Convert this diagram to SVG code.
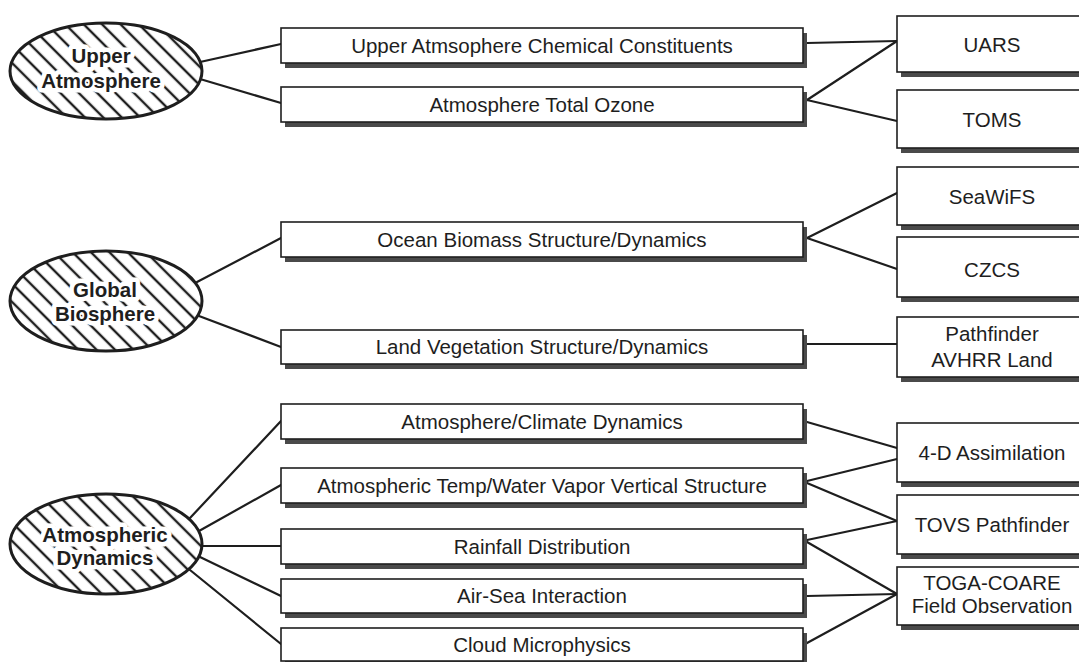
<svg xmlns="http://www.w3.org/2000/svg" width="1079" height="662" viewBox="0 0 1079 662">
<defs>
<pattern id="hatch" patternUnits="userSpaceOnUse" width="13" height="13" patternTransform="rotate(-45)">
<line x1="3" y1="0" x2="3" y2="13" stroke="#1e1e1e" stroke-width="2.4"/>
</pattern>
<style>
.box{fill:#fff;stroke:#1e1e1e;stroke-width:1.6}
.sh{fill:#4a4a4a}
.t{font-family:"Liberation Sans",Arial,sans-serif;font-size:20.5px;fill:#1e1e1e;text-anchor:middle}
.et{font-family:"Liberation Sans",Arial,sans-serif;font-size:20.5px;font-weight:bold;fill:#1e1e1e;text-anchor:middle;stroke:#fff;stroke-width:9;stroke-linejoin:round;paint-order:stroke}
.ell{fill:url(#hatch);stroke:#1e1e1e;stroke-width:3}
.ellbg{fill:#fff}
.c line{stroke:#1e1e1e;stroke-width:2.2;stroke-linecap:round}
</style>
</defs>
<rect width="1079" height="662" fill="#fff"/>
<g class="c" id="connectors">
<line x1="200" y1="62" x2="281" y2="44"/>
<line x1="200" y1="79" x2="281" y2="103"/>
<line x1="197" y1="282" x2="281" y2="238"/>
<line x1="199" y1="316" x2="281" y2="347"/>
<line x1="190" y1="518" x2="281" y2="421"/>
<line x1="199" y1="531" x2="281" y2="485"/>
<line x1="202" y1="546" x2="281" y2="546"/>
<line x1="200" y1="557" x2="281" y2="596"/>
<line x1="190" y1="570" x2="281" y2="644"/>
<line x1="807" y1="43" x2="897" y2="41"/>
<line x1="807" y1="100" x2="897" y2="41"/>
<line x1="807" y1="100" x2="897" y2="121"/>
<line x1="807" y1="238" x2="897" y2="193"/>
<line x1="807" y1="238" x2="897" y2="269"/>
<line x1="807" y1="344" x2="897" y2="344"/>
<line x1="807" y1="422" x2="897" y2="448"/>
<line x1="807" y1="481" x2="897" y2="459"/>
<line x1="807" y1="483" x2="897" y2="521"/>
<line x1="807" y1="540" x2="897" y2="521"/>
<line x1="807" y1="542" x2="897" y2="594"/>
<line x1="807" y1="596" x2="897" y2="594"/>
<line x1="807" y1="643" x2="897" y2="594"/>
</g>
<g id="upper-atmosphere">
<ellipse class="ellbg" cx="106" cy="71" rx="96" ry="48"/>
<ellipse class="ell" cx="106" cy="71" rx="96" ry="48"/>
<text class="et" x="101" y="63">Upper</text>
<text class="et" x="101" y="88">Atmosphere</text>
</g>
<g id="global-biosphere">
<ellipse class="ellbg" cx="106" cy="301" rx="96" ry="50"/>
<ellipse class="ell" cx="106" cy="301" rx="96" ry="50"/>
<text class="et" x="105" y="297">Global</text>
<text class="et" x="105" y="321">Biosphere</text>
</g>
<g id="atmospheric-dynamics">
<ellipse class="ellbg" cx="106" cy="544" rx="96" ry="50"/>
<ellipse class="ell" cx="106" cy="544" rx="96" ry="50"/>
<text class="et" x="105" y="542">Atmospheric</text>
<text class="et" x="105" y="565">Dynamics</text>
</g>
<g id="m1"><rect class="sh" x="285" y="33" width="522" height="35"/><rect class="box" x="281" y="28" width="522" height="35"/><text class="t" x="542" y="53">Upper Atmsophere Chemical Constituents</text></g>
<g id="m2"><rect class="sh" x="285" y="92" width="522" height="35"/><rect class="box" x="281" y="87" width="522" height="35"/><text class="t" x="542" y="112">Atmosphere Total Ozone</text></g>
<g id="m3"><rect class="sh" x="285" y="227" width="522" height="35"/><rect class="box" x="281" y="222" width="522" height="35"/><text class="t" x="542" y="247">Ocean Biomass Structure/Dynamics</text></g>
<g id="m4"><rect class="sh" x="285" y="335" width="522" height="34"/><rect class="box" x="281" y="330" width="522" height="34"/><text class="t" x="542" y="354">Land Vegetation Structure/Dynamics</text></g>
<g id="m5"><rect class="sh" x="285" y="409" width="522" height="35"/><rect class="box" x="281" y="404" width="522" height="35"/><text class="t" x="542" y="429">Atmosphere/Climate Dynamics</text></g>
<g id="m6"><rect class="sh" x="285" y="473" width="522" height="35"/><rect class="box" x="281" y="468" width="522" height="35"/><text class="t" x="542" y="493">Atmospheric Temp/Water Vapor Vertical Structure</text></g>
<g id="m7"><rect class="sh" x="285" y="534" width="522" height="35"/><rect class="box" x="281" y="529" width="522" height="35"/><text class="t" x="542" y="554">Rainfall Distribution</text></g>
<g id="m8"><rect class="sh" x="285" y="584" width="522" height="34"/><rect class="box" x="281" y="579" width="522" height="34"/><text class="t" x="542" y="603">Air-Sea Interaction</text></g>
<g id="m9"><rect class="sh" x="285" y="633" width="522" height="34"/><rect class="box" x="281" y="628" width="522" height="33"/><text class="t" x="542" y="652">Cloud Microphysics</text></g>
<g id="r1"><rect class="sh" x="901" y="21" width="190" height="56"/><rect class="box" x="897" y="16" width="190" height="56"/><text class="t" x="992" y="52">UARS</text></g>
<g id="r2"><rect class="sh" x="901" y="95" width="190" height="58"/><rect class="box" x="897" y="90" width="190" height="58"/><text class="t" x="992" y="127">TOMS</text></g>
<g id="r3"><rect class="sh" x="901" y="172" width="190" height="58"/><rect class="box" x="897" y="167" width="190" height="58"/><text class="t" x="992" y="204">SeaWiFS</text></g>
<g id="r4"><rect class="sh" x="901" y="242" width="190" height="60"/><rect class="box" x="897" y="237" width="190" height="60"/><text class="t" x="992" y="277">CZCS</text></g>
<g id="r5"><rect class="sh" x="901" y="322" width="190" height="60"/><rect class="box" x="897" y="317" width="190" height="60"/><text class="t" x="992" y="341">Pathfinder</text><text class="t" x="992" y="367">AVHRR Land</text></g>
<g id="r6"><rect class="sh" x="901" y="428" width="190" height="59"/><rect class="box" x="897" y="423" width="190" height="59"/><text class="t" x="992" y="460">4-D Assimilation</text></g>
<g id="r7"><rect class="sh" x="901" y="500" width="190" height="59"/><rect class="box" x="897" y="495" width="190" height="59"/><text class="t" x="992" y="532">TOVS Pathfinder</text></g>
<g id="r8"><rect class="sh" x="901" y="572" width="190" height="58"/><rect class="box" x="897" y="567" width="190" height="58"/><text class="t" x="992" y="590">TOGA-COARE</text><text class="t" x="992" y="613">Field Observation</text></g>
</svg>
